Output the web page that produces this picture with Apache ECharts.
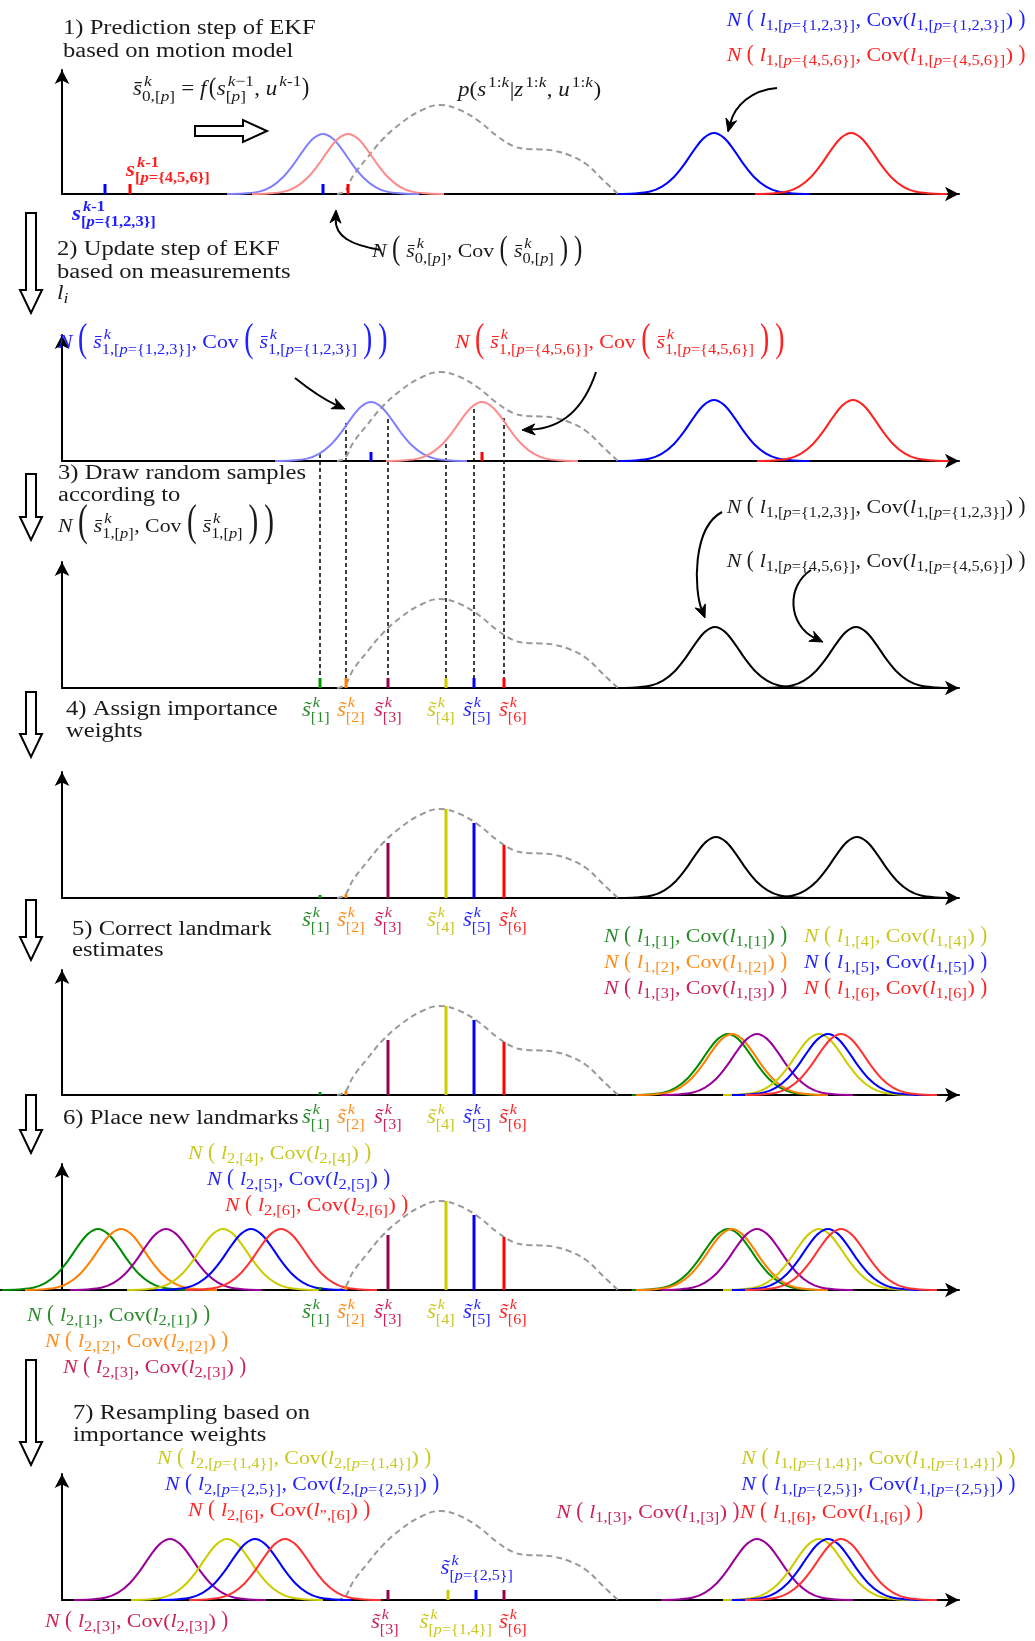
<!DOCTYPE html>
<html><head><meta charset="utf-8">
<script src="https://cdn.jsdelivr.net/npm/echarts@6/dist/echarts.min.js"></script>
<style>html,body{margin:0;padding:0;background:#fff}#chart{width:1035px;height:1641px}</style>
</head><body><div id="chart"></div>
<script>
// ================= DATA (x = position along the s-axis, y = height) =================
const PDF_X = [337, 345, 353, 367, 383, 400, 420, 440, 460, 480, 497, 513, 527, 540, 553, 569, 586, 603, 618];
const PDF_Y = [0, 3, 18, 36, 55, 70, 83, 89, 84, 72, 58, 48, 45, 44.5, 43.5, 39, 30, 14, 0];
// one Gaussian-looking bump profile (offset from its mean, fraction of its peak)
const BUMP_DX = [-96, -80, -64, -52, -40, -30, -20, -10, 0, 10, 20, 30, 40, 52, 64, 80, 96];
const BUMP_SHAPE = [0, 0.01, 0.04, 0.12, 0.28, 0.48, 0.72, 0.92, 1, 0.92, 0.72, 0.48, 0.28, 0.12, 0.04, 0.01, 0];
const BUMP_PEAK = 61;
const LIGHT_PEAK = 60;
const PREV_PARTICLES_X = [105, 130];
const PREDICTED_MEANS = [323, 348];
const LANDMARK_MEANS_P1 = [714, 851];
const UPDATED_MEANS = [371, 482];
const LANDMARK_MEANS_P2 = [714, 853];
const LANDMARK_MEANS_P3 = [715, 856];
const LANDMARK_MEANS_P4 = [716, 857];
const SAMPLES_X = [320, 346, 388, 446, 474, 504];
const DRAW_TOPS = [7, 38, 42, 17, 52, 43];
const WEIGHTS = [3, 4, 55, 89, 75, 53];
const CORRECTED_L1_MEANS = [728, 732, 757, 819, 828, 841];
const NEW_L2_MEANS = [98, 121, 166, 223, 251, 281];
const RESAMPLED_X = [388, 448, 476, 504];
const RESAMPLED_L2_MEANS = [170, 227, 255, 285];
const RESAMPLED_L1_MEANS = [757, 819, 828, 841];
const MARK_H = 10;
const SAMPLE_LABELS = ['[1]', '[2]', '[3]', '[4]', '[5]', '[6]'];
const RESAMPLED_LABELS = ['[3]', '[p=\\{1,4\\}]', null, '[6]'];

// ================= STYLE / LAYOUT =================
const BLUE = '#0000ff', RED = '#ff2020', LBLUE = '#8080ff', LRED = '#ff8a8a', BLACK = '#000000', INK = '#1a1a1a';
const SAMPLE_COLORS = ['#009900', '#ff8000', '#99004d', '#cccc00', '#0000ff', '#ff0000'];
const CURVE_COLORS = ['#008c00', '#ff8000', '#990099', '#cccc00', '#0000ff', '#ff3333'];
const LABEL_COLORS = ['#2a8a2a', '#ff8c1a', '#cc2255', '#c8c820', '#2424ff', '#ff2424'];
const RESAMPLED_COLORS = ['#99004d', '#cccc00', '#0000ff', '#99004d'];
const RESAMPLED_CURVE_COLORS = ['#990099', '#cccc00', '#0000ff', '#ff3333'];
const RESAMPLED_LABEL_COLORS = ['#cc2255', '#c8c820', '#2424ff', '#ff2424'];
const PANELS = [{tip: 63, base: 194}, {tip: 328, base: 461}, {tip: 555, base: 688}, {tip: 765, base: 898},
                {tip: 963, base: 1095}, {tip: 1157, base: 1290}, {tip: 1467, base: 1600}];
const AX_LEFT = 62, AX_TIP = 966, AH = 7;
const X_END = AX_TIP - AH;
const WIDE_PANEL = 5;              // step 6: its new landmarks reach left of the vertical axis
const LABEL_DROP = 29;
const SAMPLE_LABEL_X = [316, 351, 388, 441, 477, 513];   // where the s~ labels sit along the axis
const RESAMPLED_LABEL_X = [385, 456, 477, 513];

const FF = '"Liberation Serif", "DejaVu Serif", serif';
const HS = 1.15;      // horizontal stretch so that the serif face matches the Computer Modern widths
const HS_TITLE = 1.2;
const SR = 0.75;      // script size ratio
const K_MID = 0.33;   // canvas 'middle' sits this fraction of the size above the baseline

// ================= chart =================
const chart = echarts.init(document.getElementById('chart'), null, {renderer: 'canvas', width: 1035, height: 1641});

const grids = [], xAxes = [], yAxes = [];
const axisLine = {show: true, onZero: true, lineStyle: {color: BLACK, width: 2}, symbol: ['none', 'arrow'], symbolSize: [11, 14]};
PANELS.forEach((p, i) => {
  const top = p.tip + AH, h = p.base - top;
  const left = i === WIDE_PANEL ? 0 : AX_LEFT;
  grids.push({left: left, top: top, width: X_END - left, height: h});
  xAxes.push({gridIndex: i, type: 'value', min: left, max: X_END, axisLine: axisLine, axisTick: {show: false}, axisLabel: {show: false}, splitLine: {show: false}, z: 1});
  yAxes.push({gridIndex: i, type: 'value', min: 0, max: h, offset: left - AX_LEFT, axisLine: axisLine, axisTick: {show: false}, axisLabel: {show: false}, splitLine: {show: false}, z: 1});
});

function lineSeries(gi, data, color, extra) {
  return Object.assign({type: 'line', xAxisIndex: gi, yAxisIndex: gi, data: data, symbol: 'none', showSymbol: false,
    smooth: 0.35, lineStyle: {color: color, width: 2}, clip: false, silent: true, animation: false, z: 3}, extra || {});
}
function bump(gi, mean, color, peak) {
  return lineSeries(gi, BUMP_DX.map((d, k) => [mean + d, (peak || BUMP_PEAK) * BUMP_SHAPE[k]]), color);
}
function pdf(gi) {
  return lineSeries(gi, PDF_X.map((x, k) => [x, PDF_Y[k]]), '#999999', {smooth: 0.4, lineStyle: {color: '#999999', width: 2, type: [6, 4]}, z: 2});
}
function marks(gi, xs, hs, colors) {
  return {type: 'custom', xAxisIndex: gi, yAxisIndex: gi, data: xs.map((x, k) => [x, hs[k], k]), clip: false, silent: true, animation: false, z: 5,
    renderItem: (params, api) => {
      const p0 = api.coord([api.value(0), 0]);
      const p1 = api.coord([api.value(0), api.value(1)]);
      return {type: 'rect', shape: {x: p0[0] - 1.5, y: p1[1], width: 3, height: p0[1] - p1[1]}, style: {fill: colors[api.value(2)]}};
    }};
}

const series = [];
// panel 1
series.push(pdf(0));
series.push(bump(0, PREDICTED_MEANS[0], LBLUE, LIGHT_PEAK), bump(0, PREDICTED_MEANS[1], LRED, LIGHT_PEAK));
series.push(bump(0, LANDMARK_MEANS_P1[0], BLUE), bump(0, LANDMARK_MEANS_P1[1], RED));
series.push(marks(0, PREV_PARTICLES_X.concat(PREDICTED_MEANS), [MARK_H, MARK_H, MARK_H, MARK_H], [BLUE, '#ff0000', BLUE, '#ff0000']));
// panel 2
series.push(pdf(1));
series.push(bump(1, UPDATED_MEANS[0], LBLUE, LIGHT_PEAK - 1), bump(1, UPDATED_MEANS[1], LRED, LIGHT_PEAK - 1));
series.push(bump(1, LANDMARK_MEANS_P2[0], BLUE), bump(1, LANDMARK_MEANS_P2[1], RED));
series.push(marks(1, UPDATED_MEANS, [MARK_H - 1, MARK_H - 1], [BLUE, '#ff0000']));
// panel 3
series.push(pdf(2));
series.push(bump(2, LANDMARK_MEANS_P3[0], BLACK), bump(2, LANDMARK_MEANS_P3[1], BLACK));
series.push(marks(2, SAMPLES_X, SAMPLES_X.map(() => MARK_H), SAMPLE_COLORS));
// panel 4
series.push(pdf(3));
series.push(bump(3, LANDMARK_MEANS_P4[0], BLACK), bump(3, LANDMARK_MEANS_P4[1], BLACK));
series.push(marks(3, SAMPLES_X, WEIGHTS, SAMPLE_COLORS));
// panel 5
series.push(pdf(4));
series.push(marks(4, SAMPLES_X, WEIGHTS, SAMPLE_COLORS));
CORRECTED_L1_MEANS.forEach((m, k) => series.push(bump(4, m, CURVE_COLORS[k])));
// panel 6
series.push(pdf(5));
series.push(marks(5, SAMPLES_X, WEIGHTS, SAMPLE_COLORS));
NEW_L2_MEANS.forEach((m, k) => series.push(bump(5, m, CURVE_COLORS[k])));
CORRECTED_L1_MEANS.forEach((m, k) => series.push(bump(5, m, CURVE_COLORS[k])));
// panel 7
series.push(pdf(6));
series.push(marks(6, RESAMPLED_X, RESAMPLED_X.map(() => MARK_H), RESAMPLED_COLORS));
RESAMPLED_L2_MEANS.forEach((m, k) => series.push(bump(6, m, RESAMPLED_CURVE_COLORS[k])));
RESAMPLED_L1_MEANS.forEach((m, k) => series.push(bump(6, m, RESAMPLED_CURVE_COLORS[k])));

chart.setOption({animation: false, backgroundColor: '#ffffff', textStyle: {fontFamily: FF},
  grid: grids, xAxis: xAxes, yAxis: yAxes, series: series});

// ================= small math typesetter (real text, laid out piece by piece) =================
const mctx = document.createElement('canvas').getContext('2d');
function fontOf(size, italic, bold) { return (italic ? 'italic ' : '') + (bold ? 'bold ' : '') + size.toFixed(2) + 'px ' + FF; }
function tw(s, size, italic, bold) { mctx.font = fontOf(size, italic, bold); return mctx.measureText(s).width; }

function parseMath(src) {
  let i = 0;
  function seq(endCh) {
    const nodes = []; let buf = '';
    const flush = () => { if (buf) { nodes.push({t: 'txt', s: buf}); buf = ''; } };
    while (i < src.length) {
      const ch = src[i];
      if (endCh && ch === endCh) { i++; break; }
      if (ch === '\\') {
        const nx = src[i + 1];
        if (nx === '(' || nx === ')') { flush(); nodes.push({t: 'big', s: nx}); i += 2; }
        else if (nx === '=') { buf += src[i + 2] + '\u0304'; i += 3; }
        else if (nx === '~') { buf += src[i + 2] + '\u0303'; i += 3; }
        else { buf += nx; i += 2; }
        continue;
      }
      if (ch === '^' || ch === '_') {
        flush(); i++;
        let grp;
        if (src[i] === '{') { i++; grp = seq('}'); } else { grp = [{t: 'txt', s: src[i]}]; i++; }
        const key = ch === '^' ? 'sup' : 'sub';
        const last = nodes[nodes.length - 1];
        if (last && last.t === 'scr' && !last[key]) last[key] = grp;
        else { const n = {t: 'scr', sup: null, sub: null}; n[key] = grp; nodes.push(n); }
        continue;
      }
      buf += ch; i++;
    }
    flush();
    return nodes;
  }
  return seq(null);
}

function bigStretch(f) { return 1.1 + Math.max(0, f - 1.2) * 0.4; }

function layoutSeq(nodes, size, opt, out, x, dy, state) {
  const hs = opt.hs || HS;
  for (const n of nodes) {
    if (n.t === 'txt') {
      const parts = n.s.match(/(?:[A-Za-z][\u0300-\u036f]*)+|[^A-Za-z]+/g) || [];
      for (const p of parts) {
        const letters = p.replace(/[\u0300-\u036f]/g, '').length;
        const italic = /[A-Za-z]/.test(p[0]) && letters === 1;
        out.push({s: p, x: x, dy: dy, size: size, italic: italic, bold: !!opt.bold, hs: hs});
        x += tw(p, size, italic, opt.bold) * hs;
        state.italic = italic;
      }
    } else if (n.t === 'big') {
      const f = opt.big || 1.25;
      const sx = bigStretch(f);
      if (state.italic) x += 0.12 * size;   // italic correction before a delimiter
      out.push({s: n.s, x: x, dy: dy, size: size, big: true, scale: f, sx: sx, bold: !!opt.bold});
      x += tw(n.s, size, false, opt.bold) * sx + 0.5;
      state.italic = false;
    } else {
      const ss = size * (opt.sr || SR), both = n.sup && n.sub;
      const corr = state.italic ? 0.1 * size : 0;
      let e1 = x, e2 = x;
      if (n.sup) e1 = layoutSeq(n.sup, ss, opt, out, x + corr, dy - 0.45 * size, {italic: false});
      if (n.sub) e2 = layoutSeq(n.sub, ss, opt, out, x, dy + (both ? 0.3 : 0.22) * size, {italic: false});
      x = Math.max(e1, e2) + 0.5;
      state.italic = false;
    }
  }
  return x;
}

function addMath(G, markup, x, base, anchor, color, size, opt) {
  opt = opt || {};
  const items = [];
  let width;
  if (opt.plain) {
    const hs = opt.hs || HS_TITLE;
    items.push({s: markup, x: 0, dy: 0, size: size, italic: false, bold: false, hs: hs});
    width = tw(markup, size, false, false) * hs;
  } else width = layoutSeq(parseMath(markup), size, opt, items, 0, 0, {italic: false});
  const x0 = anchor === 'left' ? x : anchor === 'right' ? x - width : x - width / 2;
  for (const it of items) {
    if (it.big) {
      const axisY = base + it.dy - 0.25 * it.size;
      G.push({type: 'text', x: x0 + it.x, y: axisY - 0.1 * it.size * it.scale, scaleX: it.sx, scaleY: it.scale, z: 20, silent: true,
        style: {text: it.s, font: fontOf(it.size, false, it.bold), fill: color, align: 'left', verticalAlign: 'middle'}});
    } else {
      G.push({type: 'text', x: x0 + it.x, y: base + it.dy - K_MID * it.size, scaleX: it.hs, z: 20, silent: true,
        style: {text: it.s, font: fontOf(it.size, it.italic, it.bold), fill: color, align: 'left', verticalAlign: 'middle'}});
    }
  }
}

function hollowDown(G, cx, top, tip) {
  G.push({type: 'polygon', z: 15, silent: true, shape: {points: [[cx - 5, top], [cx + 5, top], [cx + 5, tip - 23], [cx + 11, tip - 23], [cx, tip], [cx - 11, tip - 23], [cx - 5, tip - 23]]},
    style: {fill: '#ffffff', stroke: BLACK, lineWidth: 2}});
}
function hollowRight(G, left, cy, tip) {
  G.push({type: 'polygon', z: 15, silent: true, shape: {points: [[left, cy - 5], [tip - 24, cy - 5], [tip - 24, cy - 11], [tip, cy], [tip - 24, cy + 11], [tip - 24, cy + 5], [left, cy + 5]]},
    style: {fill: '#ffffff', stroke: BLACK, lineWidth: 2}});
}
function curvedArrow(G, p0, c1, c2, p1) {
  const ang = Math.atan2(p1[1] - c2[1], p1[0] - c2[0]);
  const dx = Math.cos(ang), dy = Math.sin(ang), px = -dy, py = dx;
  const L = 13, W = 5.5, N = 4;
  const end = [p1[0] - dx * (L - N), p1[1] - dy * (L - N)];
  G.push({type: 'bezierCurve', z: 15, silent: true, shape: {x1: p0[0], y1: p0[1], cpx1: c1[0], cpy1: c1[1], cpx2: c2[0], cpy2: c2[1], x2: end[0], y2: end[1]},
    style: {stroke: BLACK, lineWidth: 2, fill: 'none'}});
  G.push({type: 'polygon', z: 16, silent: true, shape: {points: [[p1[0], p1[1]], [p1[0] - dx * L + px * W, p1[1] - dy * L + py * W], [end[0], end[1]], [p1[0] - dx * L - px * W, p1[1] - dy * L - py * W]]},
    style: {fill: BLACK, stroke: BLACK, lineWidth: 1}});
}

// ================= annotations =================
const G = [];
const MS = 19;   // math size
const TS = 20.5; // text size
const LS = 20;   // sample label size
const NL = (lvl, sub) => String.raw`N \( l_{${lvl},${sub}}, Cov(l_{${lvl},${sub}}) \)`;

// titles
[['1) Prediction step of EKF', 63, 35], ['based on motion model', 63, 58],
 ['2) Update step of EKF', 57, 256], ['based on measurements', 57, 279],
 ['3) Draw random samples', 58, 480], ['according to', 58, 502],
 ['4) Assign importance', 66, 716], ['weights', 66, 738],
 ['5) Correct landmark', 72, 936], ['estimates', 72, 957],
 ['6) Place new landmarks', 63, 1125],
 ['7) Resampling based on', 73, 1420], ['importance weights', 73, 1442]
].forEach(t => addMath(G, t[0], t[1], t[2], 'left', INK, TS, {plain: true}));
addMath(G, 'l_{i}', 57, 300, 'left', INK, TS);

// panel 1
addMath(G, String.raw`\=s^{k}_{0,[p]} = f\(s^{k−1}_{[p]}, u^{k-1}\)`, 133, 96, 'left', INK, 20, {big: 1.3});
addMath(G, String.raw`s^{k-1}_{[p=\{4,5,6\}]}`, 126, 177, 'left', '#ff2020', 20, {bold: true, sr: 0.72});
addMath(G, String.raw`s^{k-1}_{[p=\{1,2,3\}]}`, 72, 221, 'left', '#2020ff', 20, {bold: true, sr: 0.72});
addMath(G, String.raw`p(s^{1:k}|z^{1:k}, u^{1:k})`, 458, 97, 'left', INK, 20);
addMath(G, NL(1, String.raw`[p=\{1,2,3\}]`), 1026, 27, 'right', '#2020ff', MS, {big: 1.2});
addMath(G, NL(1, String.raw`[p=\{4,5,6\}]`), 1026, 62, 'right', '#ff2020', MS, {big: 1.2});
addMath(G, String.raw`N \( \=s^{k}_{0,[p]}, Cov \( \=s^{k}_{0,[p]} \) \)`, 372, 258, 'left', INK, MS, {big: 1.75});
hollowRight(G, 195, 131, 267);
curvedArrow(G, [777, 88], [752, 90], [735, 105], [728, 132]);
curvedArrow(G, [381, 250], [350, 245], [335, 236], [336, 210]);

// panel 2
addMath(G, String.raw`N \( \=s^{k}_{1,[p=\{1,2,3\}]}, Cov \( \=s^{k}_{1,[p=\{1,2,3\}]} \) \)`, 58, 349, 'left', '#2020ff', MS, {big: 2.1});
addMath(G, String.raw`N \( \=s^{k}_{1,[p=\{4,5,6\}]}, Cov \( \=s^{k}_{1,[p=\{4,5,6\}]} \) \)`, 455, 349, 'left', '#ff2020', MS, {big: 2.1});
curvedArrow(G, [295, 378], [310, 390], [325, 400], [345, 409]);
curvedArrow(G, [596, 372], [585, 405], [565, 428], [522, 430]);

// panel 3
addMath(G, String.raw`N \( \=s^{k}_{1,[p]}, Cov \( \=s^{k}_{1,[p]} \) \)`, 58, 533, 'left', INK, MS, {big: 2.3});
addMath(G, NL(1, String.raw`[p=\{1,2,3\}]`), 1026, 514, 'right', INK, MS, {big: 1.2});
addMath(G, NL(1, String.raw`[p=\{4,5,6\}]`), 1026, 568, 'right', INK, MS, {big: 1.2});
curvedArrow(G, [722, 512], [692, 528], [694, 590], [705, 618]);
curvedArrow(G, [811, 570], [786, 586], [788, 625], [823, 642]);

// panel 5 legend
[0, 1, 2].forEach(k => addMath(G, NL(1, `[${k + 1}]`), 604, 943 + 26 * k, 'left', LABEL_COLORS[k], MS, {big: 1.2}));
[3, 4, 5].forEach(k => addMath(G, NL(1, `[${k + 1}]`), 804, 943 + 26 * (k - 3), 'left', LABEL_COLORS[k], MS, {big: 1.2}));

// panel 6
addMath(G, NL(2, '[4]'), 188, 1160, 'left', LABEL_COLORS[3], MS, {big: 1.2});
addMath(G, NL(2, '[5]'), 207, 1186, 'left', LABEL_COLORS[4], MS, {big: 1.2});
addMath(G, NL(2, '[6]'), 225, 1212, 'left', LABEL_COLORS[5], MS, {big: 1.2});
addMath(G, NL(2, '[1]'), 27, 1322, 'left', LABEL_COLORS[0], MS, {big: 1.2});
addMath(G, NL(2, '[2]'), 45, 1348, 'left', LABEL_COLORS[1], MS, {big: 1.2});
addMath(G, NL(2, '[3]'), 63, 1374, 'left', LABEL_COLORS[2], MS, {big: 1.2});

// panel 7
addMath(G, NL(2, String.raw`[p=\{1,4\}]`), 157, 1465, 'left', LABEL_COLORS[3], MS, {big: 1.2});
addMath(G, NL(2, String.raw`[p=\{2,5\}]`), 165, 1491, 'left', LABEL_COLORS[4], MS, {big: 1.2});
addMath(G, String.raw`N \( l_{2,[6]}, Cov(l_{”,[6]}) \)`, 188, 1517, 'left', LABEL_COLORS[5], MS, {big: 1.2});
addMath(G, NL(2, '[3]'), 45, 1628, 'left', LABEL_COLORS[2], MS, {big: 1.2});
addMath(G, NL(1, String.raw`[p=\{1,4\}]`), 1016, 1465, 'right', LABEL_COLORS[3], MS, {big: 1.2});
addMath(G, NL(1, String.raw`[p=\{2,5\}]`), 1016, 1491, 'right', LABEL_COLORS[4], MS, {big: 1.2});
addMath(G, NL(1, '[3]'), 740, 1519, 'right', LABEL_COLORS[2], MS, {big: 1.2});
addMath(G, NL(1, '[6]'), 740, 1519, 'left', LABEL_COLORS[5], MS, {big: 1.2});

// block arrows between the steps
[[213, 313], [474, 540], [692, 757], [900, 960], [1095, 1153], [1360, 1465]].forEach(a => hollowDown(G, 31, a[0], a[1]));

// labels under the sample marks, placed through the axes
[2, 3, 4, 5].forEach(gi => {
  SAMPLES_X.forEach((x, k) => {
    const p = chart.convertToPixel({gridIndex: gi}, [SAMPLE_LABEL_X[k], 0]);
    addMath(G, String.raw`\~s^{k}_{` + SAMPLE_LABELS[k] + '}', p[0], p[1] + LABEL_DROP, 'center', LABEL_COLORS[k], LS, {sr: 0.7});
  });
});
RESAMPLED_X.forEach((x, k) => {
  const p = chart.convertToPixel({gridIndex: 6}, [RESAMPLED_LABEL_X[k], 0]);
  if (RESAMPLED_LABELS[k]) addMath(G, String.raw`\~s^{k}_{` + RESAMPLED_LABELS[k] + '}', p[0], p[1] + LABEL_DROP, 'center', RESAMPLED_LABEL_COLORS[k], LS, {sr: 0.7});
  else addMath(G, String.raw`\~s^{k}_{[p=\{2,5\}]}`, p[0], p[1] - 25, 'center', RESAMPLED_LABEL_COLORS[k], LS, {sr: 0.7});
});

// dashed drop lines: samples drawn from the step-2 Gaussians down to the step-3 axis
SAMPLES_X.forEach((x, k) => {
  const a = chart.convertToPixel({gridIndex: 1}, [x, DRAW_TOPS[k]]);
  const b = chart.convertToPixel({gridIndex: 2}, [x, 0]);
  G.push({type: 'line', z: 1, silent: true, shape: {x1: a[0], y1: a[1], x2: b[0], y2: b[1]}, style: {stroke: BLACK, lineWidth: 1.5, lineDash: [4, 3]}});
});

chart.setOption({graphic: G});
</script></body></html>
